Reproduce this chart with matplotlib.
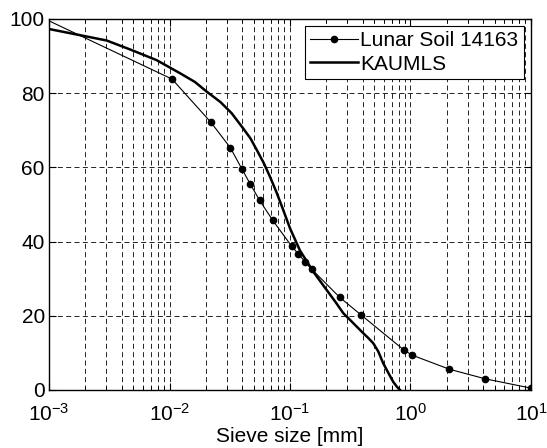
import matplotlib
matplotlib.use("Agg")
import matplotlib.pyplot as plt
from matplotlib.ticker import LogLocator, NullFormatter, FixedLocator

plt.rcParams["font.family"] = ["Liberation Sans", "DejaVu Sans"]
plt.rcParams["mathtext.fontset"] = "custom"
plt.rcParams["mathtext.rm"] = "Liberation Sans"
plt.rcParams["mathtext.default"] = "regular"

# Lunar Soil 14163 grading (sieve size mm, percent passing)
lunar_size = [0.001, 0.0105, 0.022, 0.032, 0.040, 0.047, 0.056, 0.072, 0.103,
              0.117, 0.133, 0.152, 0.258, 0.39, 0.88, 1.03, 2.1, 4.18, 10.0]
lunar_pass = [99.5, 83.8, 72.2, 65.3, 59.5, 55.4, 51.1, 45.7, 38.8,
              36.7, 34.6, 32.5, 25.0, 20.2, 10.8, 9.4, 5.6, 3.0, 0.5]

# KAUMLS simulant grading curve
kaumls_size = [0.001, 0.00197, 0.00301, 0.0047, 0.00783, 0.0122, 0.0163, 0.0204,
               0.0265, 0.0328, 0.0409, 0.047, 0.053, 0.0605, 0.0682, 0.0775,
               0.0879, 0.1, 0.121, 0.156, 0.201, 0.24, 0.277, 0.315, 0.36,
               0.406, 0.45, 0.491, 0.54, 0.594, 0.66, 0.719, 0.77, 0.818]
kaumls_pass = [97.3, 95.4, 94.2, 91.8, 88.9, 85.4, 83.0, 80.4,
               77.6, 74.6, 70.5, 67.8, 64.7, 61.2, 57.5, 53.2,
               48.5, 43.6, 37.6, 31.9, 27.0, 23.6, 20.7, 18.9, 17.0,
               15.3, 13.9, 12.6, 10.4, 7.2, 4.4, 2.2, 0.9, 0.0]

x_ticks = [1e-3, 1e-2, 1e-1, 1e0, 1e1]
x_tick_labels = [r"$10^{-3}$", r"$10^{-2}$", r"$10^{-1}$", r"$10^{0}$", r"$10^{1}$"]
y_ticks = [0, 20, 40, 60, 80, 100]

fig = plt.figure(figsize=(5.47, 4.48), dpi=100)
ax = fig.add_axes([0.0896, 0.1295, 0.8811, 0.8281])

ax.plot(lunar_size, lunar_pass, "-", color="black", lw=0.8,
        marker="o", markersize=4.5, markevery=list(range(1, len(lunar_size))),
        label="Lunar Soil 14163")
ax.plot(kaumls_size, kaumls_pass, "-", color="black", lw=1.8, label="KAUMLS")

ax.set_xscale("log")
ax.set_xlim(1e-3, 1e1)
ax.set_ylim(0, 100)
ax.xaxis.set_major_locator(FixedLocator(x_ticks))
ax.set_xticklabels(x_tick_labels)
ax.xaxis.set_minor_locator(LogLocator(base=10, subs=range(2, 10), numticks=20))
ax.xaxis.set_minor_formatter(NullFormatter())
ax.set_yticks(y_ticks)

ax.grid(True, which="major", linestyle=(0, (6, 4)), color="black", lw=0.6)
ax.grid(True, which="minor", axis="x", linestyle=(0, (6, 4)), color="black", lw=0.6)

ax.tick_params(which="both", direction="in", top=True, right=True,
               labelsize=15, colors="black")
ax.tick_params(which="major", length=5)
ax.tick_params(which="minor", length=3)
ax.tick_params(axis="x", pad=9)
ax.tick_params(axis="y", pad=3)
for s in ax.spines.values():
    s.set_linewidth(1.0)

ax.set_xlabel("Sieve size [mm]", fontsize=15, labelpad=2)

leg = ax.legend(loc="upper right", fontsize=15, fancybox=False,
                framealpha=1, edgecolor="black", handlelength=2.3,
                handletextpad=0.1, borderaxespad=0.35, borderpad=0.25,
                labelspacing=0.2)
leg.get_frame().set_linewidth(0.8)

fig.savefig("out.png", dpi=100)
